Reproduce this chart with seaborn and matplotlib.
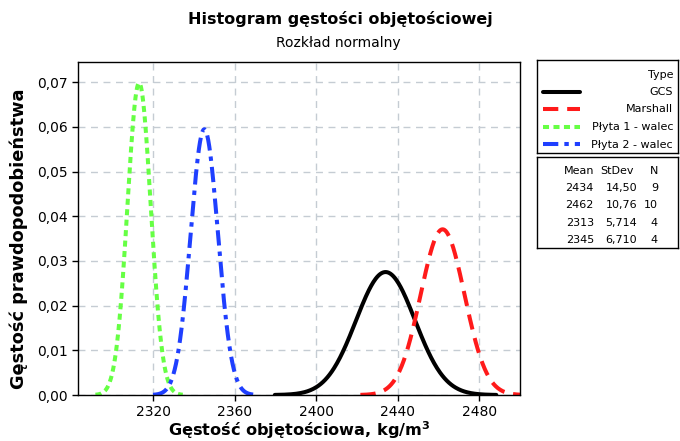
import numpy as np
import pandas as pd
import matplotlib
matplotlib.use("Agg")
import matplotlib.pyplot as plt
import seaborn as sns
from matplotlib.lines import Line2D
from matplotlib.ticker import FuncFormatter

types = ["GCS", "Marshall", "Płyta 1 - walec", "Płyta 2 - walec"]
means = [2434, 2462, 2313, 2345]
stdevs = [14.50, 10.76, 5.714, 6.710]
counts = [9, 10, 4, 4]
stdev_labels = ["14,50", "10,76", "5,714", "6,710"]
colors = ["#000000", "#ff1a1a", "#66ff44", "#1f3fff"]
xticks = [2320, 2360, 2400, 2440, 2480]
yticks = [0.00, 0.01, 0.02, 0.03, 0.04, 0.05, 0.06, 0.07]

# fitted normal densities from the table parameters
rows = []
for t, m, s in zip(types, means, stdevs):
    xs = np.linspace(m - 3.75 * s, m + 3.75 * s, 300)
    ys = np.exp(-0.5 * ((xs - m) / s) ** 2) / (s * np.sqrt(2 * np.pi))
    rows.append(pd.DataFrame({"x": xs, "y": ys, "Type": t}))
df = pd.concat(rows, ignore_index=True)

sns.set_theme(style="white")
plt.rcParams["font.family"] = ["DejaVu Sans"]
plt.rcParams["text.color"] = "black"
plt.rcParams["axes.labelcolor"] = "black"
plt.rcParams["xtick.color"] = "black"
plt.rcParams["ytick.color"] = "black"

fig = plt.figure(figsize=(6.8, 4.41), dpi=100)
ax = fig.add_axes([0.1147, 0.1043, 0.65, 0.755])

LW = 2.9
dashes = {
    "GCS": "",
    "Marshall": (3.8, 2.2),
    "Płyta 1 - walec": (1.5, 1.1),
    "Płyta 2 - walec": (3.8, 1.5, 1.1, 1.5),
}
palette = dict(zip(types, colors))
sns.lineplot(data=df, x="x", y="y", hue="Type", style="Type", palette=palette,
             dashes=dashes, linewidth=LW, legend=False, ax=ax, sort=False,
             estimator=None)

ax.set_xlim(2283, 2500)
ax.set_ylim(0, 0.0745)
ax.set_xticks(xticks)
ax.set_yticks(yticks)
ax.yaxis.set_major_formatter(FuncFormatter(lambda v, p: f"{v:.2f}".replace(".", ",")))
ax.grid(True, color="#c5ccd3", linestyle=(0, (5, 4)), linewidth=1)
ax.set_axisbelow(True)
for sp in ax.spines.values():
    sp.set_color("black")
    sp.set_linewidth(1.0)
ax.tick_params(axis="both", labelsize=10, colors="black", labelcolor="black",
               length=4, width=1, direction="out", bottom=True, left=True)
ax.set_xlabel("Gęstość objętościowa, kg/m$^\\mathbf{3}$", fontsize=11.6, fontweight="bold",
              labelpad=0, color="black")
ax.set_ylabel("Gęstość prawdopodobieństwa", fontsize=12.8, fontweight="bold",
              color="black")
ax.yaxis.set_label_coords(-0.113, 0.468)

fig.text(0.5, 0.957, "Histogram gęstości objętościowej", ha="center", va="center",
         fontsize=11.5, fontweight="bold", color="black")
fig.text(0.497, 0.903, "Rozkład normalny", ha="center", va="center", fontsize=10,
         color="black")

# ---- legend box ----
lax = fig.add_axes([537 / 680, 1 - 153 / 441, 141 / 680, 93 / 441])
lax.set_xlim(537, 678)
lax.set_ylim(153, 60)
lax.set_xticks([]); lax.set_yticks([])
for sp in lax.spines.values():
    sp.set_color("black"); sp.set_linewidth(1.0)
lax.set_facecolor("white")
lax.text(673, 75, "Type", ha="right", va="center", fontsize=8)
for i, t in enumerate(types):
    yy = 92 + i * 17.5
    if dashes[t]:
        ln = Line2D([543, 580], [yy, yy], color=colors[i], linewidth=LW,
                    linestyle=(0, dashes[t]))
    else:
        ln = Line2D([543, 580], [yy, yy], color=colors[i], linewidth=LW)
    lax.add_line(ln)
    lax.text(673, yy, t, ha="right", va="center", fontsize=8)

# ---- table box ----
tax = fig.add_axes([537 / 680, 1 - 248 / 441, 141 / 680, 91 / 441])
tax.set_xlim(537, 678)
tax.set_ylim(248, 157)
tax.set_xticks([]); tax.set_yticks([])
for sp in tax.spines.values():
    sp.set_color("black"); sp.set_linewidth(1.0)
tax.text(594, 171, "Mean", ha="right", va="center", fontsize=8)
tax.text(634, 171, "StDev", ha="right", va="center", fontsize=8)
tax.text(658, 171, "N", ha="right", va="center", fontsize=8)
for i in range(len(types)):
    yy = 188 + i * 17.3
    tax.text(594, yy, str(means[i]), ha="right", va="center", fontsize=8)
    tax.text(637, yy, stdev_labels[i], ha="right", va="center", fontsize=8)
    tax.text(658, yy, str(counts[i]), ha="right", va="center", fontsize=8)

fig.savefig("out.png", dpi=100)
